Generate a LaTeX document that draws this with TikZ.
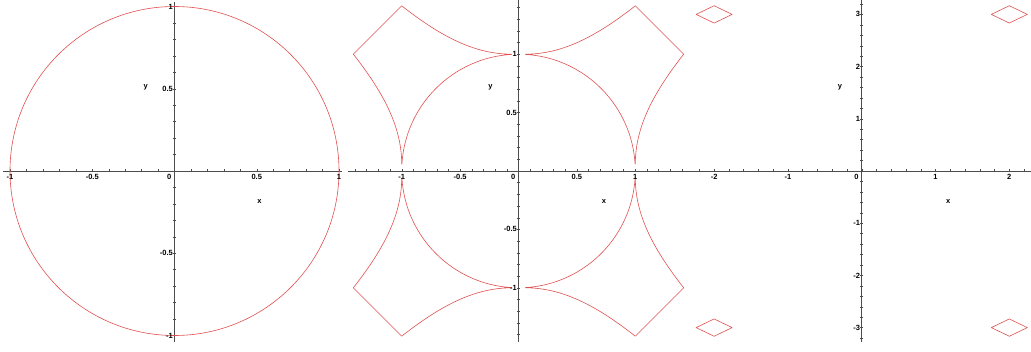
\documentclass[tikz,border=0pt]{standalone}
\usepackage{fontspec}
\setsansfont{Liberation Sans}

\begin{document}
\begin{tikzpicture}[x=1pt, y=1pt,
  axis/.style={draw=black!70, line width=0.7pt},
  tickmark/.style={draw=black!70, line width=0.4pt},
  curve/.style={draw={rgb,255:red,225;green,80;blue,80}, line width=0.6pt, line join=round},
  num/.style={font=\sffamily\bfseries\fontsize{7.5}{8}\selectfont, inner sep=0pt},
  lbl/.style={font=\sffamily\bfseries\fontsize{7.5}{8}\selectfont, inner sep=0pt}]

  \useasboundingbox (0,0) rectangle (1031,351);

  \begin{scope}[shift={(174.5,180)}, x=164.5pt, y=164.5pt]
    \draw[axis] (-1.043,0) -- (1.018,0);
    \draw[axis] (0,-1.04) -- (0,1.027);
    \foreach \i in {-10,...,10} {
      \draw[tickmark] (\i/10,0) ++(0,-1.5pt) -- ++(0,3pt);
      \draw[tickmark] (0,\i/10) ++(-1.5pt,0) -- ++(3pt,0);
    }
    \draw[curve] (0,0) circle[radius=1];
    \foreach \v [count=\k] in {-1,-0.5,0.5,1} {
      \node[num, anchor=north] (a1x\k) at ([yshift=-3pt]\v,0) {\v};
      \node[num, anchor=east] (a1y\k) at ([xshift=-1.5pt]0,\v) {\v};
    }
    \node[num, anchor=north east] (a1o) at ([shift={(-3pt,-3pt)}]0,0) {0};
    \node[lbl] (a1xn) at (0.516,-0.187) {x};
    \node[lbl] (a1yn) at (-0.175,0.511) {y};
  \end{scope}

  \begin{scope}[shift={(518.5,180)}, x=116.8pt, y=116.8pt]
    \draw[axis] (-1.464,0) -- (1.468,0);
    \draw[axis] (0,-1.462) -- (0,1.464);
    \foreach \i in {-14,...,14} {
      \draw[tickmark] (\i/10,0) ++(0,-1.5pt) -- ++(0,3pt);
      \draw[tickmark] (0,\i/10) ++(-1.5pt,0) -- ++(3pt,0);
    }
    \foreach \sx/\sy in {1/1,-1/1,-1/-1,1/-1}
      \draw[curve, xscale=\sx, yscale=\sy] (3.4:1) arc[start angle=3.4, end angle=86.6, radius=1]
        -- (0.06,1) .. controls (0.4,1) and (0.7,1.18) .. (1,1.414)
        -- (1.414,1) .. controls (1.18,0.7) and (1,0.4) .. (1,0.06) -- cycle;
    \foreach \v [count=\k] in {-1,-0.5,0.5,1} {
      \node[num, anchor=north] (a2x\k) at ([yshift=-3pt]\v,0) {\v};
      \node[num, anchor=east] (a2y\k) at ([xshift=-1.5pt]0,\v) {\v};
    }
    \node[num, anchor=north east] (a2o) at ([shift={(-3pt,-3pt)}]0,0) {0};
    \node[lbl] (a2xn) at (0.732,-0.263) {x};
    \node[lbl] (a2yn) at (-0.241,0.719) {y};
  \end{scope}

  \begin{scope}[shift={(861.7,180)}, x=73.8pt, y=52.2pt]
    \draw[axis] (-2.336,0) -- (2.3,0);
    \draw[axis] (0,-3.27) -- (0,3.276);
    \foreach \i in {-11,...,11}
      \draw[tickmark] (\i/5,0) ++(0,-1.5pt) -- ++(0,3pt);
    \foreach \i in {-16,...,16}
      \draw[tickmark] (0,\i/5) ++(-1.5pt,0) -- ++(3pt,0);
    \foreach \cx in {-2,2}
      \foreach \cy in {-3,3}
        \draw[curve] ({\cx-0.244},\cy) -- (\cx,{\cy+0.166}) -- ({\cx+0.244},\cy) -- (\cx,{\cy-0.166}) -- cycle;
    \foreach \v [count=\k] in {-2,-1,1,2}
      \node[num, anchor=north] (a3x\k) at ([yshift=-3pt]\v,0) {\v};
    \foreach \v [count=\k] in {-3,-2,-1,1,2,3}
      \node[num, anchor=east] (a3y\k) at ([xshift=-1.5pt]0,\v) {\v};
    \node[num, anchor=north east] (a3o) at ([shift={(-3pt,-3pt)}]0,0) {0};
    \node[lbl] (a3xn) at (1.173,-0.588) {x};
    \node[lbl] (a3yn) at (-0.294,1.609) {y};
  \end{scope}

\end{tikzpicture}
\end{document}
